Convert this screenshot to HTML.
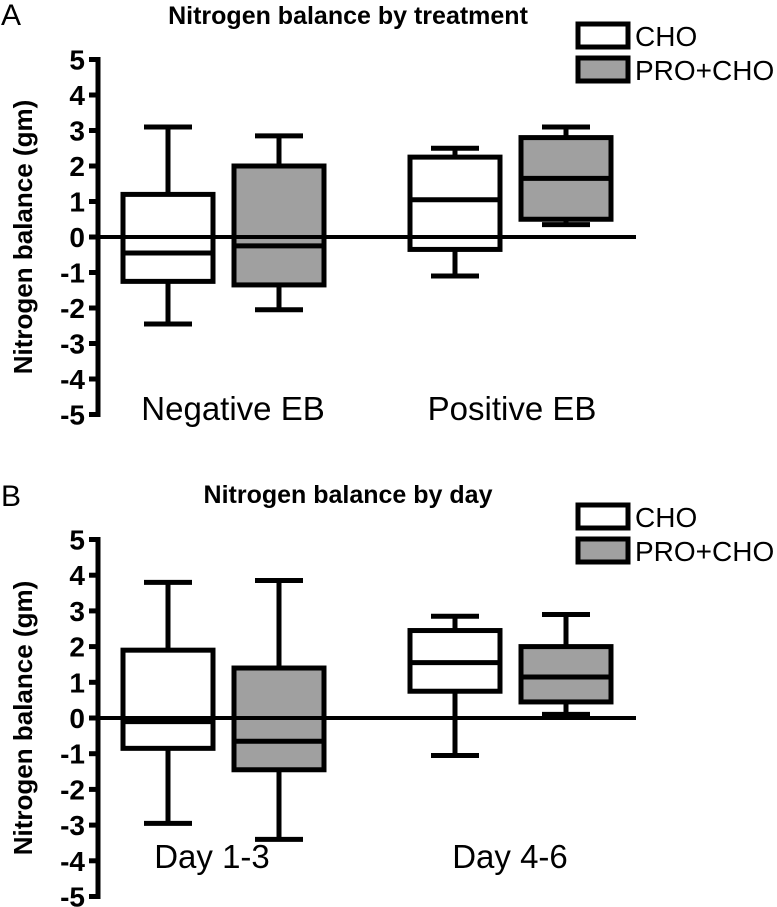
<!DOCTYPE html>
<html><head><meta charset="utf-8"><style>
html,body{margin:0;padding:0;background:#fff;}
svg{display:block;font-family:"Liberation Sans",Arial,sans-serif;}
</style></head><body>
<svg id="chart" width="777" height="907" viewBox="0 0 777 907"></svg>
<script>
const ticks=[5,4,3,2,1,0,-1,-2,-3,-4,-5];
const groupsA=["Negative EB","Positive EB"];
const groupsB=["Day 1-3","Day 4-6"];
const seriesNames=["CHO","PRO+CHO"];
// [whiskerLow, q1, median, q3, whiskerHigh] per series per group
const choA=[[-2.45,-1.25,-0.45,1.2,3.1],[-1.1,-0.35,1.05,2.25,2.5]];
const proA=[[-2.05,-1.35,-0.25,2.0,2.85],[0.35,0.5,1.65,2.8,3.1]];
const choB=[[-2.95,-0.85,-0.1,1.9,3.8],[-1.05,0.75,1.55,2.45,2.85]];
const proB=[[-3.4,-1.45,-0.65,1.4,3.85],[0.1,0.45,1.15,2.0,2.9]];

const svg=document.getElementById('chart');
const NS='http://www.w3.org/2000/svg';
function mk(tag,attrs,parent){const e=document.createElementNS(NS,tag);for(const k in attrs)e.setAttribute(k,attrs[k]);(parent||svg).appendChild(e);return e;}

function panel(cfg){
  const g=mk('g',{});
  
  
  const y=v=>cfg.y0-v*cfg.unit;
  const ax=98;
  const L=mk('text',{x:1,y:cfg.letterY,'font-size':30},g);L.textContent=cfg.letter;
  
  
  const T=mk('text',{x:348,y:cfg.titleY,'font-size':25,'font-weight':'bold','text-anchor':'middle'},g);T.textContent=cfg.title;
  
  
  const axl=mk('line',{x1:ax,x2:ax,y1:y(5)-2.5,y2:y(-5)+2.5,stroke:'#000','stroke-width':5},g);
  
  
  ticks.forEach(t=>{
    const tk=mk('line',{x1:89,x2:ax,y1:y(t),y2:y(t),stroke:'#000','stroke-width':5},g);
    
    
    const tl=mk('text',{x:85,y:y(t)+10,'font-size':28,'font-weight':'bold','text-anchor':'end'},g);
    tl.textContent=String(t);
    
    
  });
  const yt=mk('text',{transform:`translate(32,${y(0)}) rotate(-90)`,'font-size':26,'font-weight':'bold','text-anchor':'middle'},g);
  yt.textContent='Nitrogen balance (gm)';
  
  
  const zl=mk('line',{x1:ax,x2:636,y1:y(0),y2:y(0),stroke:'#000','stroke-width':4},g);
  
  
  const centers=[224,511];
  const off=[-56,55];
  cfg.groups.forEach((gname,gi)=>{
    [cfg.cho,cfg.pro].forEach((ser,si)=>{
      const d=ser[gi];const cx=centers[gi]+off[si];const hw=45;
      const bg=mk('g',{},g);
      
      
      mk('line',{x1:cx,x2:cx,y1:y(d[4]),y2:y(d[0]),stroke:'#000','stroke-width':5},bg);
      mk('line',{x1:cx-24,x2:cx+24,y1:y(d[4]),y2:y(d[4]),stroke:'#000','stroke-width':5},bg);
      mk('line',{x1:cx-24,x2:cx+24,y1:y(d[0]),y2:y(d[0]),stroke:'#000','stroke-width':5},bg);
      mk('rect',{x:cx-hw,y:y(d[3]),width:2*hw,height:y(d[1])-y(d[3]),fill:si?'#a0a0a0':'#fff',stroke:'#000','stroke-width':5},bg);
      mk('line',{x1:cx-hw,x2:cx+hw,y1:y(0),y2:y(0),stroke:'#000','stroke-width':4},bg);
      mk('line',{x1:cx-hw,x2:cx+hw,y1:y(d[2]),y2:y(d[2]),stroke:'#000','stroke-width':5},bg);
    });
    const cl=mk('text',{x:cfg.catX[gi],y:cfg.catY,'font-size':33,'text-anchor':'middle'},g);
    cl.textContent=gname;
    
    
  });
  seriesNames.forEach((n,i)=>{
    const ly=cfg.legY+i*34;
    const r=mk('rect',{x:578,y:ly,width:50,height:23,fill:i?'#a0a0a0':'#fff',stroke:'#000','stroke-width':5},g);
    
    
    const lt=mk('text',{x:635,y:ly+22,'font-size':28},g);lt.textContent=n;
    
    
  });
}
panel({name:'panel-a',letter:'A',title:'Nitrogen balance by treatment',letterY:25,titleY:24,y0:237,unit:35.5,groups:groupsA,cho:choA,pro:proA,catX:[233,512],catY:420,legY:24});
panel({name:'panel-b',letter:'B',title:'Nitrogen balance by day',letterY:506,titleY:503,y0:718,unit:35.7,groups:groupsB,cho:choB,pro:proB,catX:[212,510],catY:868,legY:505});
</script>
</body></html>
